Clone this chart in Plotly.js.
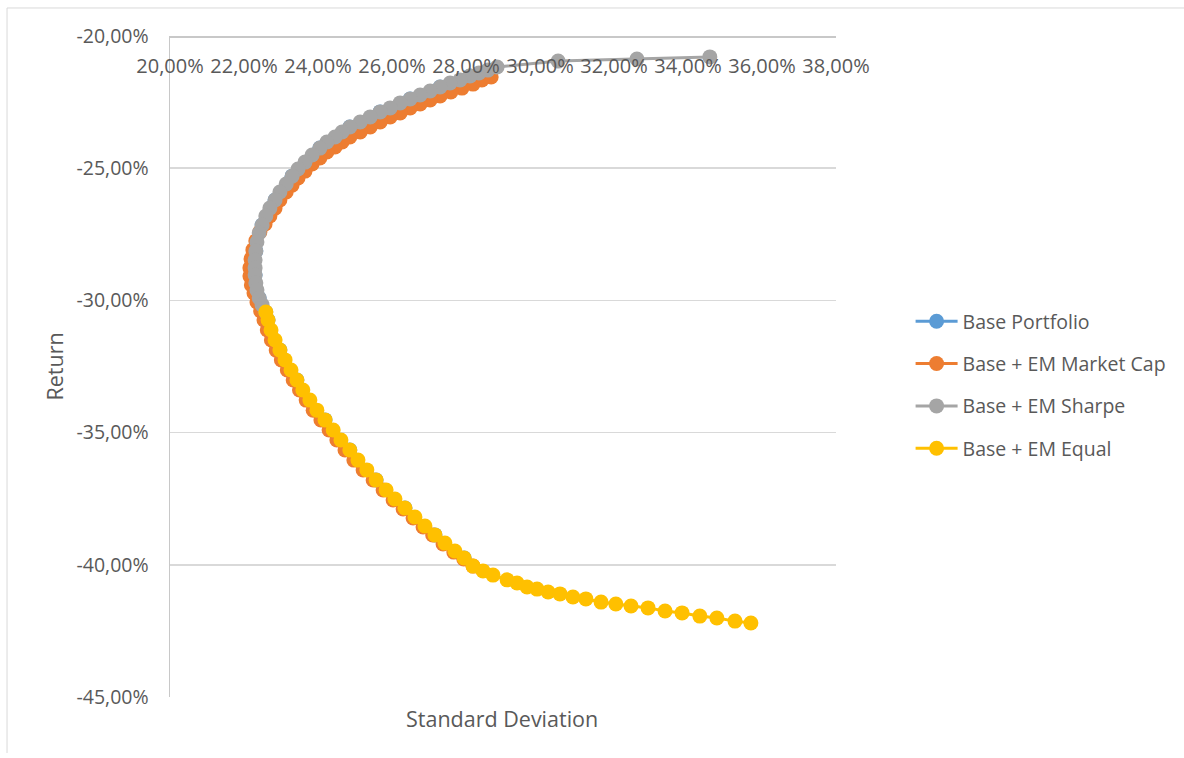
<!DOCTYPE html>
<html>
<head>
<meta charset="utf-8">
<script src="https://cdn.plot.ly/plotly-3.0.1.min.js"></script>
<style>
  html, body { margin: 0; padding: 0; background: #ffffff; }
  #chart { width: 1184px; height: 758px; }
</style>
</head>
<body>
<div id="chart"></div>
<script>
// Efficient frontiers: standard deviation (%) vs. return (%)

const baseSd = [28.11, 27.30, 26.49, 25.68, 24.86, 24.05, 23.30, 22.84, 22.49, 22.32,
  22.30, 22.41, 22.65, 22.97, 23.43, 24.19, 24.86, 25.57, 26.35, 27.16, 27.95];
const baseRet = [-21.51, -21.93, -22.38, -22.87, -23.44, -24.24, -25.30, -26.20, -27.15, -28.13,
  -29.04, -29.91, -30.74, -31.88, -33.01, -34.52, -35.66, -36.79, -37.85, -38.87, -39.74];

const mcapSd = [28.68, 28.43, 28.19, 27.89, 27.59, 27.30, 27.03, 26.76, 26.49, 26.22,
  25.95, 25.68, 25.41, 25.14, 24.86, 24.65, 24.46, 24.24, 24.05, 23.84,
  23.65, 23.46, 23.30, 23.14, 22.97, 22.84, 22.70, 22.57, 22.43, 22.32,
  22.24, 22.19, 22.16, 22.16, 22.20, 22.27, 22.35, 22.45, 22.54, 22.63,
  22.74, 22.87, 23.01, 23.17, 23.33, 23.50, 23.68, 23.87, 24.08, 24.30,
  24.51, 24.73, 24.97, 25.22, 25.49, 25.76, 26.03, 26.30, 26.57, 26.84,
  27.10, 27.38, 27.67, 27.94, 28.19];
const mcapRet = [-21.55, -21.66, -21.82, -21.97, -22.12, -22.27, -22.42, -22.57, -22.72, -22.91,
  -23.06, -23.25, -23.44, -23.63, -23.82, -24.01, -24.20, -24.39, -24.61, -24.84,
  -25.11, -25.37, -25.64, -25.90, -26.20, -26.51, -26.81, -27.11, -27.41, -27.75,
  -28.09, -28.43, -28.77, -29.08, -29.42, -29.72, -30.06, -30.40, -30.74, -31.12,
  -31.50, -31.88, -32.25, -32.63, -33.01, -33.39, -33.77, -34.15, -34.52, -34.90,
  -35.28, -35.66, -36.04, -36.41, -36.79, -37.17, -37.55, -37.89, -38.23, -38.57,
  -38.87, -39.21, -39.52, -39.78, -40.05];

const sharpeSd = [34.59, 32.62, 30.49, 28.84,
  28.59, 28.35, 28.11, 27.84, 27.57, 27.30, 27.03, 26.76, 26.49, 26.22,
  25.95, 25.68, 25.41, 25.14, 24.86, 24.65, 24.46, 24.24, 24.05, 23.84,
  23.65, 23.46, 23.30, 23.14, 22.97, 22.84, 22.70, 22.59, 22.49, 22.41,
  22.35, 22.32, 22.30, 22.30, 22.30, 22.32, 22.35, 22.41, 22.49, 22.59];
const sharpeRet = [-20.79, -20.87, -20.95, -21.17,
  -21.29, -21.40, -21.51, -21.66, -21.78, -21.93, -22.08, -22.23, -22.38, -22.53,
  -22.72, -22.87, -23.06, -23.25, -23.44, -23.63, -23.82, -24.01, -24.24, -24.50,
  -24.77, -25.03, -25.30, -25.60, -25.90, -26.20, -26.51, -26.81, -27.15, -27.45,
  -27.79, -28.13, -28.47, -28.77, -29.04, -29.34, -29.61, -29.91, -30.17, -30.44];

const equalSd = [22.59, 22.65, 22.73, 22.84, 22.97, 23.11, 23.27, 23.43, 23.59, 23.78,
  23.97, 24.19, 24.41, 24.62, 24.86, 25.08, 25.32, 25.57, 25.84, 26.08,
  26.35, 26.62, 26.89, 27.16, 27.43, 27.70, 27.95, 28.19, 28.46, 28.73,
  29.11, 29.38, 29.65, 29.92, 30.22, 30.54, 30.89, 31.24, 31.65, 32.05,
  32.46, 32.92, 33.38, 33.84, 34.32, 34.78, 35.27, 35.70];
const equalRet = [-30.44, -30.74, -31.12, -31.50, -31.88, -32.25, -32.63, -33.01, -33.39, -33.77,
  -34.15, -34.52, -34.90, -35.28, -35.66, -36.04, -36.41, -36.79, -37.17, -37.51,
  -37.85, -38.19, -38.53, -38.87, -39.18, -39.48, -39.74, -40.05, -40.23, -40.39,
  -40.57, -40.69, -40.84, -40.92, -41.03, -41.10, -41.22, -41.29, -41.41, -41.48,
  -41.56, -41.63, -41.75, -41.82, -41.94, -42.01, -42.13, -42.20];

const seriesNames = ["Base Portfolio", "Base + EM Market Cap", "Base + EM Sharpe", "Base + EM Equal"];
const seriesColors = ["#5B9BD5", "#ED7D31", "#A5A5A5", "#FFC000"];

const xTickVals = [20, 22, 24, 26, 28, 30, 32, 34, 36, 38];
const xTickText = ["20,00%", "22,00%", "24,00%", "26,00%", "28,00%", "30,00%", "32,00%", "34,00%", "36,00%", "38,00%"];
const yTickVals = [-45, -40, -35, -30, -25, -20];
const yTickText = ["-45,00%", "-40,00%", "-35,00%", "-30,00%", "-25,00%", "-20,00%"];

const xTitle = "Standard Deviation";
const yTitle = "Return";

const FONT = "Open Sans, Liberation Sans, sans-serif";
const TEXT = "#595959";

const xs = [baseSd, mcapSd, sharpeSd, equalSd];
const ys = [baseRet, mcapRet, sharpeRet, equalRet];

const traces = seriesNames.map((name, i) => ({
  type: "scatter",
  mode: "lines+markers",
  name: name,
  x: xs[i],
  y: ys[i],
  line: { color: seriesColors[i], width: 3 },
  marker: { color: seriesColors[i], size: 15 },
  legendgroup: "g" + i,
  cliponaxis: false
}));

const layout = {
  width: 1184,
  height: 758,
  paper_bgcolor: "#ffffff",
  plot_bgcolor: "#ffffff",
  margin: { l: 170, r: 348, t: 36, b: 61 },
  font: { family: FONT, color: TEXT, size: 20 },
  showlegend: true,
  legend: {
    x: 1.112, xanchor: "left",
    y: 0.472, yanchor: "middle",
    itemwidth: 42,
    font: { family: FONT, color: TEXT, size: 19.5 },
    tracegroupgap: 14,
    bgcolor: "rgba(0,0,0,0)"
  },
  // horizontal axis sits along the top edge, labels hang below the line
  xaxis: {
    range: [20, 38],
    anchor: "free",
    position: 1,
    side: "bottom",
    layer: "above traces",
    tickvals: xTickVals,
    ticktext: xTickText,
    ticks: "outside",
    ticklen: 11,
    tickcolor: "rgba(0,0,0,0)",
    ticklabeloverflow: "allow",
    showgrid: false,
    zeroline: false,
    showline: true,
    linecolor: "#C8C8C8",
    linewidth: 1.5,
    tickfont: { family: FONT, color: TEXT, size: 20 },
    fixedrange: true
  },
  yaxis: {
    range: [-45, -20],
    tickvals: yTickVals,
    ticktext: yTickText,
    ticks: "outside",
    ticklen: 16,
    tickcolor: "rgba(0,0,0,0)",
    ticklabeloverflow: "allow",
    showgrid: true,
    gridcolor: "#D9D9D9",
    gridwidth: 1.5,
    zeroline: false,
    showline: true,
    linecolor: "#C8C8C8",
    linewidth: 1.5,
    tickfont: { family: FONT, color: TEXT, size: 19.5 },
    fixedrange: true
  },
  annotations: [
    {
      text: xTitle, xref: "paper", yref: "paper",
      x: 0.4985, y: -0.032, xanchor: "center", yanchor: "middle",
      showarrow: false, font: { family: FONT, color: TEXT, size: 21.5 }
    },
    {
      text: yTitle, xref: "paper", yref: "paper",
      x: -0.1727, y: 0.5, xanchor: "center", yanchor: "middle",
      textangle: -90,
      showarrow: false, font: { family: FONT, color: TEXT, size: 21.5 }
    }
  ],
  shapes: [
    // chart frame (left and top edges)
    { type: "line", xref: "paper", yref: "paper", x0: -0.2447, x1: -0.2447, y0: 1.0424, y1: -0.0847,
      line: { color: "#D9D9D9", width: 1 } },
    { type: "line", xref: "paper", yref: "paper", x0: -0.2447, x1: 1.53, y0: 1.0424, y1: 1.0424,
      line: { color: "#D9D9D9", width: 1 } }
  ]
};

Plotly.newPlot("chart", traces, layout, { staticPlot: true, displayModeBar: false });
</script>
</body>
</html>
